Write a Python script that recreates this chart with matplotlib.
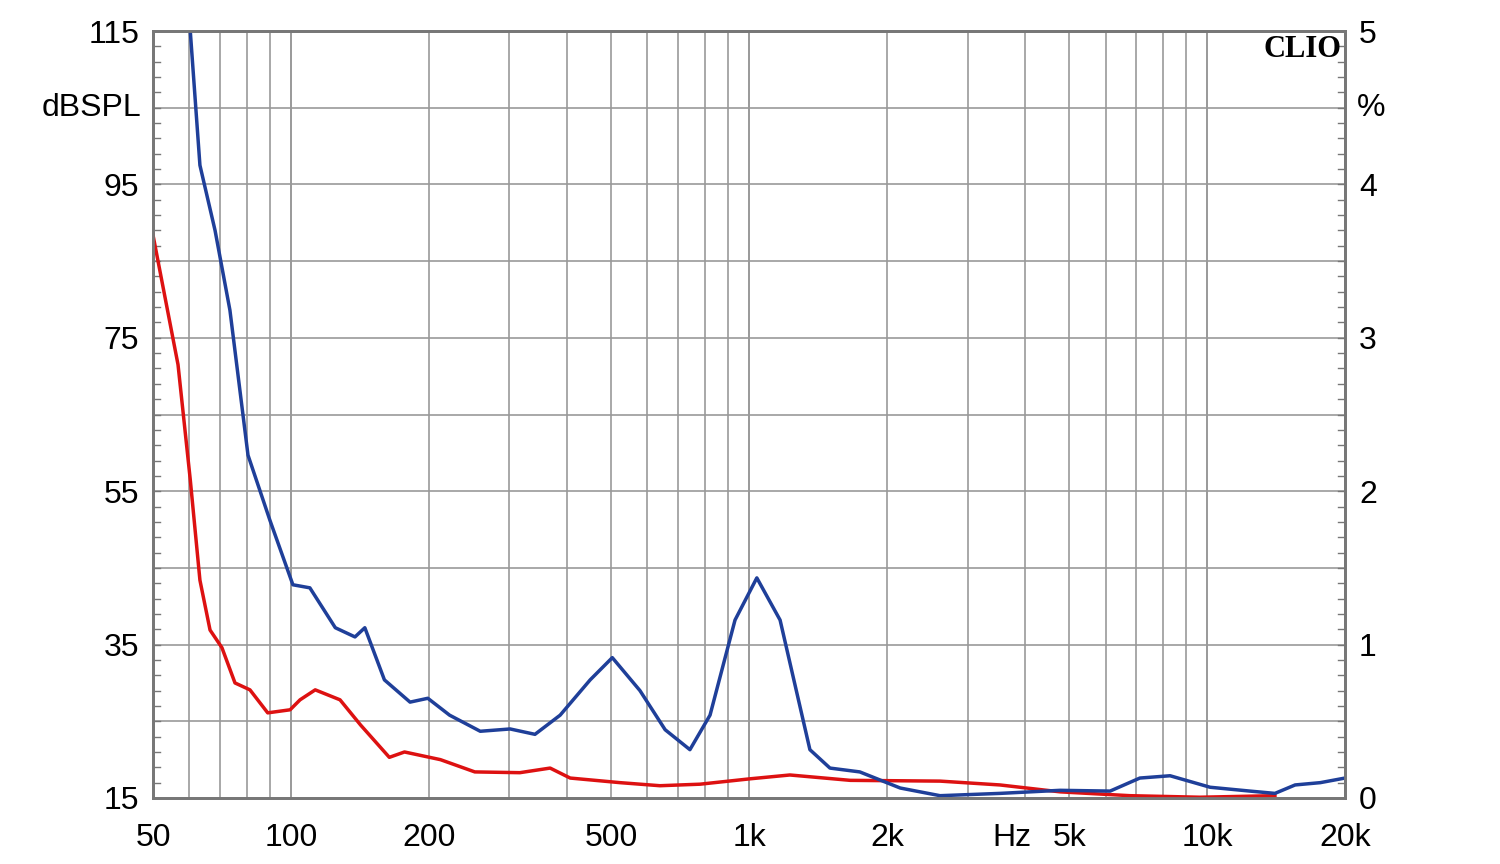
import matplotlib.pyplot as plt
import numpy as np

blue_f = [60.3, 63.3, 68.3, 73.6, 80.6, 90, 101, 110, 125, 138, 145, 160, 182, 199, 222, 259, 301, 341,
          387, 450, 503, 578, 656, 743, 822, 932, 1040, 1169, 1358, 1502, 1745, 2138, 2612, 3530, 4776,
          6140, 7130, 8300, 10150, 12400, 14060, 15560, 17660, 20000]
blue_db = [115, 97.5, 89, 78.6, 59.7, 51.2, 42.8, 42.4, 37.2, 36, 37.2, 30.4, 27.5, 28, 25.8, 23.7, 24, 23.3,
           25.8, 30.4, 33.3, 29, 23.9, 21.3, 25.8, 38.2, 43.7, 38.2, 21.3, 18.9, 18.4, 16.3, 15.3, 15.6, 16,
           15.9, 17.6, 17.9, 16.4, 15.9, 15.6, 16.7, 17, 17.6]

red_f = [50, 56.7, 60.3, 63.3, 66.6, 70.7, 75.5, 81.4, 89, 99.6, 104.7, 113, 128, 142, 164, 177, 212, 252,
         316, 368, 407, 523, 639, 782, 1005, 1228, 1663, 2612, 3530, 4776, 6790, 9640, 14060]
red_db = [88.4, 71.5, 56.5, 43.4, 36.9, 34.6, 30, 29.1, 26.1, 26.5, 27.8, 29.1, 27.8, 24.5, 20.3, 21, 20,
          18.4, 18.3, 18.9, 17.6, 17, 16.6, 16.8, 17.5, 18, 17.3, 17.2, 16.7, 15.8, 15.3, 15.1, 15.3]

x_ticks = [50, 100, 200, 500, 1000, 2000, 3750, 5000, 10000, 20000]
x_labels = ["50", "100", "200", "500", "1k", "2k", "Hz", "5k", "10k", "20k"]
left_ticks = [115, 95, 75, 55, 35, 15]
right_labels = ["5", "4", "3", "2", "1", "0"]

plt.rcParams["font.family"] = ["Liberation Sans", "DejaVu Sans"]
fig = plt.figure(figsize=(15, 8.64), dpi=100)
ax = fig.add_axes([0.102, 0.0764, 0.7947, 0.8877])
ax.set_xscale("log")
ax.set_xlim(50, 20000)
ax.set_ylim(15, 115)

# grid
vgrid = [f for d in [10, 100, 1000, 10000] for f in range(d, 10 * d + 1, d) if 50 <= f <= 20000]
for f in vgrid:
    ax.axvline(f, color="#999999", lw=1.2, zorder=1)
for v in range(25, 115, 10):
    ax.axhline(v, color="#999999", lw=1.2, zorder=1)

ax.plot(red_f, red_db, color="#dd1111", lw=2.5, zorder=3)
ax.plot(blue_f, blue_db, color="#1f3f99", lw=2.5, zorder=3, clip_on=True)

ax.set_xticks(x_ticks)
ax.set_xticklabels(x_labels)
ax.xaxis.set_minor_locator(plt.NullLocator())
ax.set_yticks(left_ticks)
ax.tick_params(axis="x", labelsize=23, length=0, pad=18)
ax.tick_params(axis="y", labelsize=23, length=0, pad=10)
ax.text(-0.01, 0.9, "dBSPL", transform=ax.transAxes, ha="right", va="center", fontsize=23)

ax2 = ax.twinx()
ax2.set_ylim(0, 5)
ax2.set_yticks(np.arange(5, -1, -1))
ax2.set_yticklabels(right_labels)
ax2.tick_params(axis="y", labelsize=23, length=0, pad=10)
ax2.text(1.01, 0.9, "%", transform=ax.transAxes, ha="left", va="center", fontsize=23)

for a in (ax, ax2):
    for s in a.spines.values():
        s.set_color("#777777")
        s.set_linewidth(2)

# small ticks along spines
for v in np.arange(15, 115, 2):
    ax.plot([0, 0.006], [v, v], transform=ax.get_yaxis_transform(), color="#777777", lw=1, clip_on=False)
    ax.plot([0.994, 1], [v, v], transform=ax.get_yaxis_transform(), color="#777777", lw=1, clip_on=False)

ax.text(0.997, 0.995, "CLIO", transform=ax.transAxes, ha="right", va="top", fontsize=22,
        fontweight="bold", family="Liberation Serif", zorder=5)

fig.savefig("out.png", dpi=100)
